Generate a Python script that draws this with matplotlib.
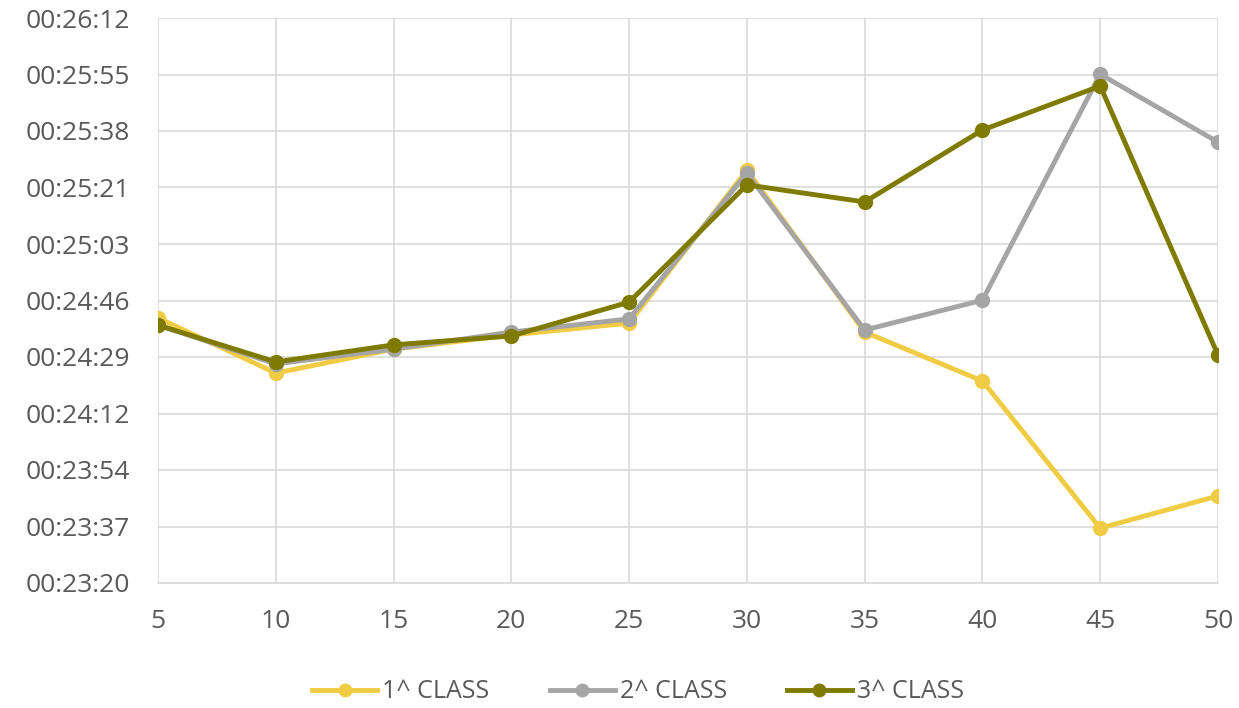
import matplotlib
matplotlib.use("Agg")
import matplotlib.pyplot as plt
from matplotlib import ticker

plt.rcParams['font.family'] = ['Open Sans', 'DejaVu Sans']

# x values and series (seconds since 00:00:00)
x = [5, 10, 15, 20, 25, 30, 35, 40, 45, 50]
class1 = [1480.7, 1463.9, 1471.2, 1475.5, 1479.1, 1525.7, 1476.4, 1461.5, 1416.7, 1426.5]
class2 = [1478.5, 1466.7, 1471.2, 1476.4, 1480.4, 1524.8, 1477.0, 1486.1, 1554.9, 1534.2]
class3 = [1478.5, 1467.3, 1472.5, 1475.2, 1485.5, 1521.2, 1516.0, 1537.9, 1551.3, 1469.4]

y_ticks = [1400 + 17.2 * i for i in range(11)]
y_labels = ["00:23:20", "00:23:37", "00:23:54", "00:24:12", "00:24:29", "00:24:46",
            "00:25:03", "00:25:21", "00:25:38", "00:25:55", "00:26:12"]

fig = plt.figure(figsize=(12.39, 7.08), dpi=100)
ax = fig.add_axes([158/1239, 1-583/708, (1218-158)/1239, (583-18)/708])

ax.plot(x, class1, '-o', color='#F0CB44', lw=3.5, ms=10, label="1^ CLASS")
ax.plot(x, class2, '-o', color='#A5A5A5', lw=3.5, ms=10, label="2^ CLASS")
ax.plot(x, class3, '-o', color='#7F7A00', lw=3.5, ms=10, label="3^ CLASS")

ax.set_xlim(5, 50)
ax.set_ylim(1400, 1572)
ax.set_xticks(x)
ax.set_yticks(y_ticks)
ax.set_yticklabels(y_labels)
ax.tick_params(length=0, labelsize=19, colors='#595959')
ax.tick_params(axis='y', pad=20)
ax.tick_params(axis='x', pad=19)
ax.grid(True, color='#D9D9D9', lw=1.2)
ax.set_axisbelow(True)
for s in ['top', 'right', 'left']:
    ax.spines[s].set_visible(False)
ax.spines['bottom'].set_color('#D9D9D9')
ax.spines['bottom'].set_linewidth(1.2)

leg = fig.legend(loc='center', bbox_to_anchor=(0.515, 1-692/708), ncol=3, frameon=False,
                 fontsize=18, handlelength=2.6, columnspacing=2.4, handletextpad=0.2,
                 markerscale=0.9)
for t in leg.get_texts():
    t.set_color('#595959')

fig.savefig("out.png", dpi=100)
